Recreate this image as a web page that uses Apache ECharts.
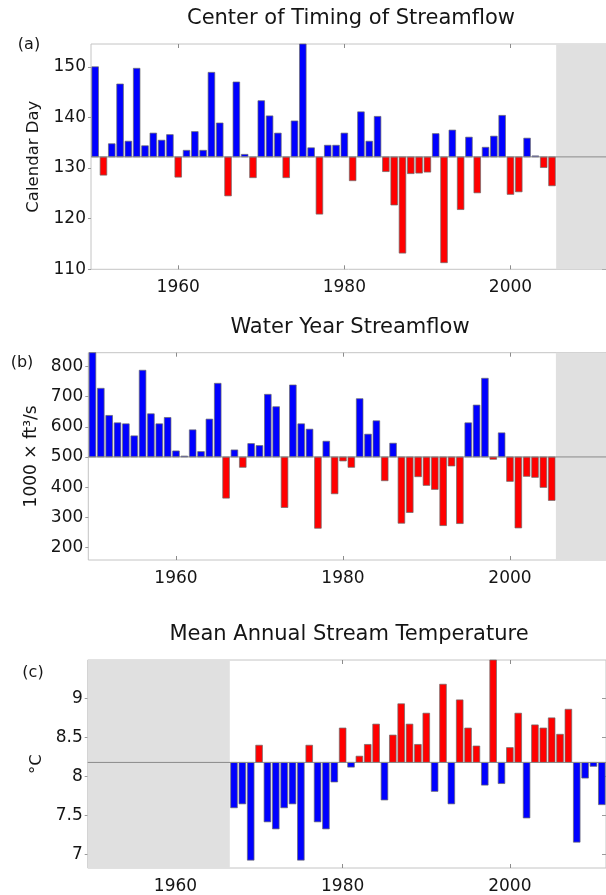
<!DOCTYPE html>
<html>
<head>
<meta charset="utf-8">
<script src="https://cdn.jsdelivr.net/npm/echarts@6/dist/echarts.min.js"></script>
<style>
  html, body { margin: 0; padding: 0; background: #ffffff; }
  #chart { width: 606px; height: 895px; }
</style>
</head>
<body>
<div id="chart"></div>
<script>
// ---- data ----
const firstYearTiming = 1950;
const timingDay = [
  150.0, 128.6, 134.8, 146.6, 135.3, 149.7, 134.4, 136.9, 135.5, 136.6,
  128.2, 133.5, 137.2, 133.5, 148.9, 138.9, 124.5, 147.0, 132.7, 128.1,
  143.3, 140.3, 136.9, 128.1, 139.3, 155.0, 134.0, 120.9, 134.5, 134.5,
  136.9, 127.5, 141.1, 135.3, 140.2, 129.3, 122.7, 113.2, 128.9, 129.0,
  129.2, 136.8, 111.3, 137.5, 121.8, 136.1, 125.1, 134.1, 136.3, 140.4,
  124.8, 125.3, 135.9, 132.4, 130.1, 126.5
];
const timingBase = 132.2;

const firstYearFlow = 1950;
const flowKcfs = [
  850, 727.8, 637.8, 613.3, 610, 570, 787.8, 643.3, 610, 631,
  520, 503, 590, 517.8, 625.6, 744.4, 363.3, 523.3, 465.6, 544.4,
  537.8, 707.8, 666.7, 332.2, 738.9, 610, 592.2, 263.3, 552.2, 377.8,
  486.7, 465.6, 693.3, 575.6, 620, 421.1, 545.6, 280, 315.6, 434.4,
  405.6, 392.2, 272.2, 470, 278.9, 613.3, 672.2, 761.1, 492.2, 580,
  418.9, 264.4, 435.6, 432.2, 398.9, 355.6
];
const flowBase = 500;

const firstYearTemp = 1967;
const tempC = [
  7.60, 7.65, 6.93, 8.40, 7.42, 7.33, 7.60, 7.65, 6.93, 8.40,
  7.42, 7.33, 7.93, 8.62, 8.12, 8.26, 8.41, 8.67, 7.70, 8.53,
  8.93, 8.67, 8.41, 8.81, 7.81, 9.18, 7.65, 8.98, 8.62, 8.39,
  7.89, 9.55, 7.91, 8.37, 8.81, 7.47, 8.66, 8.62, 8.75, 8.54,
  8.86, 7.16, 7.98, 8.13, 7.64
];
const tempBase = 8.18;

// years without record in each panel
const noDataTiming = [2005.5, 2011.5];
const noDataFlow = [2005.5, 2011.5];
const noDataTemp = [1949.5, 1966.5];

// axis extents and tick labels
const yearRange = [1949.5, 2011.5];
const yearTicks = [1960, 1980, 2000];
const dayRange = [110, 154.5];
const dayTicks = [110, 120, 130, 140, 150];
const flowRange = [158, 846];
const flowTicks = [200, 300, 400, 500, 600, 700, 800];
const tempRange = [6.83, 9.49];
const tempTicks = [7, 7.5, 8, 8.5, 9];

// ---- drawing ----
const FONT = 'DejaVu Sans';
const TEXT = '#151515';
const BLUE = '#0000ff';
const RED = '#ff0000';

function pairs(firstYear, values) {
  return values.map((v, i) => [firstYear + i, v]);
}

function coordRect(params) {
  const cs = params.coordSys;
  return { x: cs.x, y: cs.y, width: cs.width, height: cs.height };
}

// bars drawn up or down from a reference level
function anomalyBars(gridIndex, data, base, upColor, downColor) {
  return {
    type: 'custom',
    xAxisIndex: gridIndex * 2,
    yAxisIndex: gridIndex * 2,
    data: data,
    z: 3,
    silent: true,
    renderItem: function (params, api) {
      const yr = api.value(0);
      const v = api.value(1);
      const p = api.coord([yr - 0.4, v]);
      const q = api.coord([yr + 0.4, base]);
      const shape = echarts.graphic.clipRectByRect({
        x: p[0], y: Math.min(p[1], q[1]),
        width: q[0] - p[0], height: Math.abs(q[1] - p[1])
      }, coordRect(params));
      if (!shape) return;
      return {
        type: 'rect',
        shape: shape,
        style: { fill: v >= base ? upColor : downColor, stroke: '#6a6a6a', lineWidth: 0.7 }
      };
    }
  };
}

// shaded span with no record
function shadedSpan(gridIndex, span, base) {
  return {
    type: 'custom',
    xAxisIndex: gridIndex * 2,
    yAxisIndex: gridIndex * 2,
    data: [span],
    z: 1,
    silent: true,
    renderItem: function (params, api) {
      const cs = coordRect(params);
      const a = api.coord([api.value(0), base])[0];
      const b = api.coord([api.value(1), base])[0];
      const shape = echarts.graphic.clipRectByRect({ x: a, y: cs.y, width: b - a, height: cs.height }, cs);
      if (!shape) return;
      return { type: 'rect', shape: shape, style: { fill: '#e0e0e0' } };
    }
  };
}

// reference level across the whole plot
function baseLine(gridIndex, base) {
  return {
    type: 'line',
    xAxisIndex: gridIndex * 2,
    yAxisIndex: gridIndex * 2,
    data: [[yearRange[0], base], [yearRange[1], base]],
    symbol: 'none',
    z: 4,
    silent: true,
    lineStyle: { color: '#8a8a8a', width: 1 }
  };
}

function xAxes(gridIndex) {
  const common = {
    type: 'value', gridIndex: gridIndex,
    min: yearRange[0], max: yearRange[1],
    axisLine: { show: false },
    splitLine: { show: false },
    axisTick: { show: true, inside: true, length: 4, lineStyle: { color: '#8c8c8c' }, customValues: yearTicks }
  };
  return [
    Object.assign({}, common, {
      position: 'bottom',
      axisLabel: {
        customValues: yearTicks, fontSize: 17, fontFamily: FONT, color: TEXT, margin: 10,
        formatter: function (v) { return String(v); }
      }
    }),
    Object.assign({}, common, { position: 'top', axisLabel: { show: false } })
  ];
}

function yAxes(gridIndex, range, ticks, name, nameGap, nameSize) {
  return [
    {
      type: 'value', gridIndex: gridIndex, position: 'left',
      min: range[0], max: range[1],
      axisLine: { show: false },
      splitLine: { show: false },
      axisTick: { show: true, inside: false, length: 3, lineStyle: { color: '#9a9a9a' }, customValues: ticks },
      axisLabel: {
        customValues: ticks, fontSize: 17, fontFamily: FONT, color: TEXT, margin: 5,
        formatter: function (v) { return String(v); }
      },
      name: name, nameLocation: 'middle', nameRotate: 90, nameGap: nameGap,
      nameTextStyle: { fontSize: nameSize, fontFamily: FONT, color: TEXT }
    },
    {
      type: 'value', gridIndex: gridIndex, position: 'right',
      min: range[0], max: range[1],
      axisLine: { show: false },
      splitLine: { show: false },
      axisTick: { show: true, inside: true, length: 4, lineStyle: { color: '#9a9a9a' }, customValues: ticks },
      axisLabel: { show: false }
    }
  ];
}

const gridStyle = { show: true, borderColor: '#c4c4c4', borderWidth: 1, backgroundColor: 'transparent' };

const option = {
  animation: false,
  backgroundColor: '#ffffff',
  grid: [
    Object.assign({ left: 91, top: 44, width: 519.6, height: 225.3 }, gridStyle),
    Object.assign({ left: 88.3, top: 352.7, width: 522.7, height: 207.3 }, gridStyle),
    Object.assign({ left: 87.7, top: 660, width: 522.7, height: 208.3 }, gridStyle)
  ],
  xAxis: [].concat(xAxes(0), xAxes(1), xAxes(2)),
  yAxis: [].concat(
    yAxes(0, dayRange, dayTicks, 'Calendar Day', 40, 16.5),
    yAxes(1, flowRange, flowTicks, '1000 × ft³/s', 47, 17),
    yAxes(2, tempRange, tempTicks, '°C', 38, 16.5)
  ),
  series: [
    shadedSpan(0, noDataTiming, timingBase),
    anomalyBars(0, pairs(firstYearTiming, timingDay), timingBase, BLUE, RED),
    baseLine(0, timingBase),
    shadedSpan(1, noDataFlow, flowBase),
    anomalyBars(1, pairs(firstYearFlow, flowKcfs), flowBase, BLUE, RED),
    baseLine(1, flowBase),
    shadedSpan(2, noDataTemp, tempBase),
    anomalyBars(2, pairs(firstYearTemp, tempC), tempBase, RED, BLUE),
    baseLine(2, tempBase)
  ],
  graphic: [
    { type: 'text', x: 351, y: 19, style: { text: 'Center of Timing of Streamflow', fontSize: 21, fontFamily: FONT, fill: TEXT, align: 'center', verticalAlign: 'middle' } },
    { type: 'text', x: 350, y: 328, style: { text: 'Water Year Streamflow', fontSize: 21, fontFamily: FONT, fill: TEXT, align: 'center', verticalAlign: 'middle' } },
    { type: 'text', x: 349, y: 635, style: { text: 'Mean Annual Stream Temperature', fontSize: 21, fontFamily: FONT, fill: TEXT, align: 'center', verticalAlign: 'middle' } },
    { type: 'text', x: 29, y: 45, style: { text: '(a)', fontSize: 16, fontFamily: FONT, fill: TEXT, align: 'center', verticalAlign: 'middle' } },
    { type: 'text', x: 22, y: 363, style: { text: '(b)', fontSize: 16, fontFamily: FONT, fill: TEXT, align: 'center', verticalAlign: 'middle' } },
    { type: 'text', x: 33, y: 673, style: { text: '(c)', fontSize: 16, fontFamily: FONT, fill: TEXT, align: 'center', verticalAlign: 'middle' } }
  ]
};

const chart = echarts.init(document.getElementById('chart'), null, { renderer: 'canvas' });
chart.setOption(option);
</script>
</body>
</html>
